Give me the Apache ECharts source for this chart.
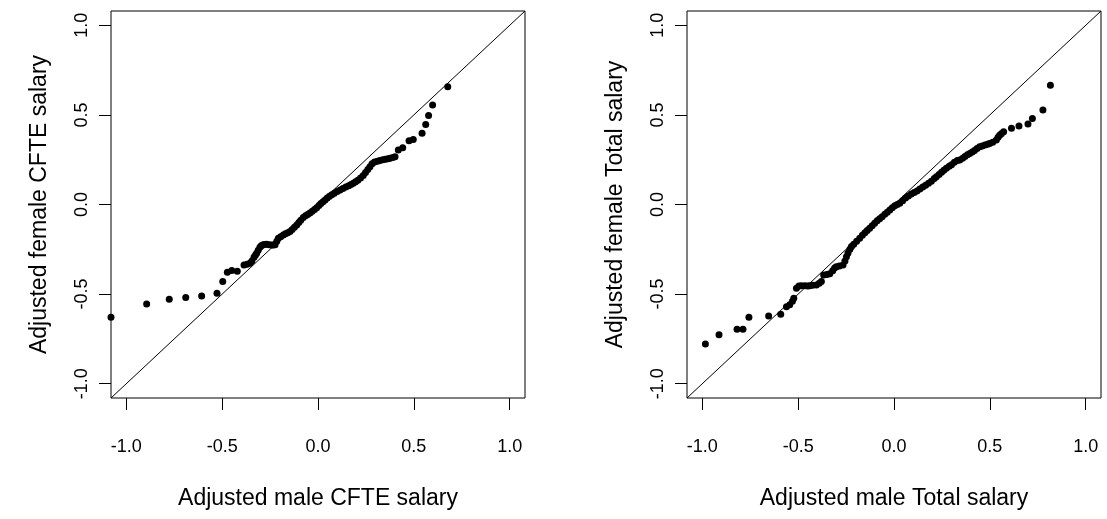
<!DOCTYPE html>
<html>
<head>
<meta charset="utf-8">
<script src="https://cdn.jsdelivr.net/npm/echarts@6/dist/echarts.min.js"></script>
<style>
html,body{margin:0;padding:0;background:#fff;}
#chart{width:1107px;height:519px;}
</style>
</head>
<body>
<div id="chart"></div>
<script>
// Axis extent and ticks
const axisRange = [-1.08, 1.08];
const tickValues = [-1, -0.5, 0, 0.5, 1];
const tickLabels = ['-1.0', '-0.5', '0.0', '0.5', '1.0'];

// Panel titles
const xNames = ['Adjusted male CFTE salary', 'Adjusted male Total salary'];
const yNames = ['Adjusted female CFTE salary', 'Adjusted female Total salary'];

// Left panel: CFTE salary quantiles (male, female)
const cfteMale = [-1.08,-0.894,-0.776,-0.690,-0.607,-0.527,-0.497,-0.473,-0.450,-0.421,-0.386,-0.370,
  -0.355,-0.345,-0.334,-0.327,-0.320,-0.312,-0.303,-0.296,-0.289,-0.280,-0.268,-0.255,-0.242,-0.233,-0.224,
  -0.215,-0.207,-0.195,-0.181,-0.170,-0.158,-0.146,-0.135,-0.123,-0.111,-0.100,-0.090,-0.077,-0.065,-0.054,
  -0.042,-0.030,-0.018,-0.007,0.005,0.015,0.026,0.037,0.048,0.060,0.072,0.085,0.100,0.115,0.130,0.145,0.160,
  0.172,0.184,0.196,0.208,0.222,0.236,0.248,0.260,0.271,0.282,0.295,0.310,0.323,0.338,0.352,0.365,0.376,
  0.390,0.402,0.419,0.442,0.475,0.497,0.543,0.562,0.577,0.598,0.677];
const cfteFemale = [-0.629,-0.555,-0.529,-0.519,-0.510,-0.495,-0.430,-0.378,-0.369,-0.372,-0.337,-0.333,
  -0.328,-0.315,-0.294,-0.283,-0.272,-0.255,-0.239,-0.230,-0.226,-0.223,-0.222,-0.224,-0.226,-0.226,-0.224,
  -0.205,-0.189,-0.180,-0.170,-0.163,-0.157,-0.150,-0.140,-0.127,-0.114,-0.100,-0.088,-0.072,-0.063,-0.056,
  -0.047,-0.038,-0.028,-0.018,-0.005,0.005,0.015,0.025,0.036,0.046,0.055,0.063,0.072,0.081,0.089,0.097,0.105,
  0.111,0.118,0.127,0.136,0.148,0.162,0.178,0.195,0.211,0.228,0.237,0.242,0.245,0.250,0.252,0.255,0.258,
  0.262,0.266,0.304,0.317,0.356,0.363,0.397,0.447,0.497,0.556,0.657];

// Right panel: Total salary quantiles (male, female)
const totalMale = [-0.984,-0.913,-0.819,-0.788,-0.757,-0.654,-0.591,-0.561,-0.544,-0.530,-0.523,-0.509,
  -0.496,-0.483,-0.465,-0.450,-0.440,-0.425,-0.405,-0.390,-0.379,-0.367,-0.350,-0.335,-0.320,-0.310,-0.301,
  -0.285,-0.266,-0.256,-0.248,-0.240,-0.230,-0.222,-0.210,-0.195,-0.179,-0.165,-0.152,-0.140,-0.127,-0.114,
  -0.101,-0.088,-0.075,-0.062,-0.048,-0.035,-0.022,-0.009,0.004,0.017,0.030,0.045,0.060,0.075,0.090,0.105,
  0.120,0.135,0.150,0.165,0.180,0.195,0.210,0.221,0.235,0.248,0.260,0.273,0.288,0.300,0.315,0.330,0.343,
  0.358,0.370,0.383,0.395,0.408,0.420,0.433,0.447,0.460,0.475,0.488,0.499,0.515,0.534,0.543,0.551,0.560,
  0.572,0.613,0.652,0.699,0.722,0.777,0.816];
const totalFemale = [-0.778,-0.727,-0.696,-0.696,-0.629,-0.622,-0.612,-0.570,-0.560,-0.540,-0.523,-0.467,
  -0.455,-0.454,-0.454,-0.455,-0.454,-0.450,-0.449,-0.440,-0.430,-0.393,-0.390,-0.387,-0.370,-0.355,-0.347,
  -0.343,-0.337,-0.315,-0.291,-0.270,-0.250,-0.235,-0.222,-0.205,-0.188,-0.172,-0.158,-0.145,-0.133,-0.119,
  -0.105,-0.091,-0.080,-0.068,-0.055,-0.043,-0.031,-0.018,-0.007,0.000,0.007,0.021,0.036,0.048,0.058,0.067,
  0.076,0.087,0.097,0.108,0.118,0.130,0.145,0.155,0.168,0.180,0.191,0.202,0.213,0.222,0.236,0.245,0.248,
  0.258,0.268,0.277,0.285,0.293,0.302,0.312,0.322,0.327,0.332,0.336,0.341,0.348,0.360,0.375,0.387,0.395,
  0.406,0.425,0.438,0.449,0.480,0.527,0.666];

const FONT = 'Liberation Sans, Arial, Helvetica, sans-serif';
function labelFor(v) {
  for (let i = 0; i < tickValues.length; i++) if (Math.abs(tickValues[i] - v) < 1e-9) return tickLabels[i];
  return '';
}
function zip(a, b) { return a.map((v, i) => [v, b[i]]); }

function makeAxis(gridIndex, name, isY) {
  return {
    type: 'value', gridIndex: gridIndex,
    min: axisRange[0], max: axisRange[1],
    position: isY ? 'left' : 'bottom',
    name: name, nameLocation: 'middle', nameGap: isY ? 60 : 89,
    nameTextStyle: { fontSize: 23, color: '#000', fontFamily: FONT },
    axisLine: { show: false, onZero: false },
    splitLine: { show: false },
    axisTick: { show: true, length: 12, customValues: tickValues, lineStyle: { color: '#000', width: 1 } },
    axisLabel: {
      customValues: tickValues, formatter: labelFor, fontSize: 18, color: '#000', fontFamily: FONT,
      margin: isY ? 20 : 40, rotate: isY ? 90 : 0
    }
  };
}

const grids = [
  { left: 111, top: 11, width: 414, height: 387, show: true, borderColor: '#000', borderWidth: 1, backgroundColor: 'transparent' },
  { left: 687, top: 11, width: 414, height: 387, show: true, borderColor: '#000', borderWidth: 1, backgroundColor: 'transparent' }
];

function diag(i) {
  return { type: 'line', xAxisIndex: i, yAxisIndex: i, data: [[axisRange[0], axisRange[0]], [axisRange[1], axisRange[1]]],
    symbol: 'none', lineStyle: { color: '#000', width: 1 }, silent: true, z: 1, animation: false, clip: true };
}
function pts(i, xs, ys) {
  return { type: 'scatter', xAxisIndex: i, yAxisIndex: i, data: zip(xs, ys), symbol: 'circle', symbolSize: 7,
    itemStyle: { color: '#000', opacity: 1 }, clip: true, z: 2, animation: false };
}

const chart = echarts.init(document.getElementById('chart'), null, { renderer: 'canvas' });
chart.setOption({
  backgroundColor: '#fff',
  animation: false,
  grid: grids,
  xAxis: [makeAxis(0, xNames[0], false), makeAxis(1, xNames[1], false)],
  yAxis: [makeAxis(0, yNames[0], true), makeAxis(1, yNames[1], true)],
  series: [diag(0), pts(0, cfteMale, cfteFemale), diag(1), pts(1, totalMale, totalFemale)]
});
</script>
</body>
</html>
